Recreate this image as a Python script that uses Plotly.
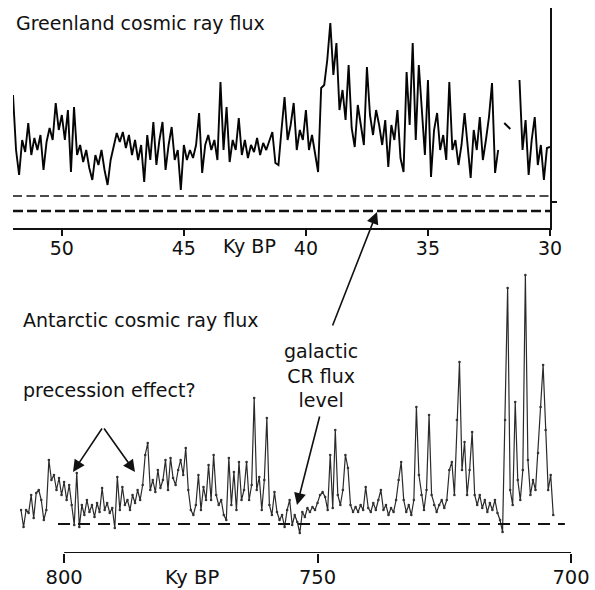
import plotly.graph_objects as go

# ---------------- data ----------------
# Greenland panel: age (ky BP) and cosmic ray flux (arbitrary units)
greenland_age = [
    52.0, 51.875, 51.75, 51.625, 51.5, 51.375, 51.25, 51.125,
    51.0, 50.875, 50.75, 50.625, 50.5, 50.375, 50.25, 50.125,
    50.0, 49.875, 49.75, 49.625, 49.5, 49.375, 49.25, 49.125,
    49.0, 48.875, 48.75, 48.625, 48.5, 48.375, 48.25, 48.125,
    48.0, 47.875, 47.75, 47.625, 47.5, 47.375, 47.25, 47.125,
    47.0, 46.875, 46.75, 46.625, 46.5, 46.375, 46.25, 46.125,
    46.0, 45.875, 45.75, 45.625, 45.5, 45.375, 45.25, 45.125,
    45.0, 44.875, 44.75, 44.625, 44.5, 44.375, 44.25, 44.125,
    44.0, 43.875, 43.75, 43.625, 43.5, 43.375, 43.25, 43.125,
    43.0, 42.875, 42.75, 42.625, 42.5, 42.375, 42.25, 42.125,
    42.0, 41.875, 41.75, 41.625, 41.5, 41.375, 41.25, 41.125,
    41.0, 40.875, 40.75, 40.625, 40.5, 40.375, 40.25, 40.125,
    40.0, 39.875, 39.75, 39.625, 39.5, 39.375, 39.25, 39.125,
    39.0, 38.875, 38.75, 38.625, 38.5, 38.375, 38.25, 38.125,
    38.0, 37.875, 37.75, 37.625, 37.5, 37.375, 37.25, 37.125,
    37.0, 36.875, 36.75, 36.625, 36.5, 36.375, 36.25, 36.125,
    36.0, 35.875, 35.75, 35.625, 35.5, 35.375, 35.25, 35.125,
    35.0, 34.875, 34.75, 34.625, 34.5, 34.375, 34.25, 34.125,
    34.0, 33.875, 33.75, 33.625, 33.5, 33.375, 33.25, 33.125,
    33.0, 32.875, 32.75, 32.625, 32.5, 32.375, 32.25, 32.125,
    32.0, 31.875, 31.75, 31.625, 31.5, 31.375, 31.25, 31.125,
    31.0, 30.875, 30.75, 30.625, 30.5, 30.375, 30.25, 30.125,
    30.0,
]
greenland_flux = [
    133, 78, 53, 88, 76, 105, 73, 90,
    78, 93, 58, 86, 100, 88, 125, 98,
    113, 88, 118, 56, 121, 73, 83, 66,
    78, 60, 48, 73, 63, 78, 58, 43,
    68, 83, 95, 86, 96, 80, 93, 73,
    88, 68, 83, 46, 93, 68, 106, 63,
    88, 106, 58, 83, 101, 68, 78, 38,
    83, 68, 78, 70, 83, 115, 55, 83,
    93, 78, 88, 68, 146, 78, 121, 66,
    88, 78, 110, 73, 88, 70, 83, 76,
    90, 73, 85, 78, 88, 96, 65, 63,
    98, 131, 88, 103, 125, 78, 98, 88,
    118, 78, 93, 73, 56, 140, 143, 168,
    205, 153, 185, 118, 138, 108, 163, 100,
    81, 123, 103, 83, 161, 113, 93, 118,
    103, 83, 108, 61, 103, 88, 118, 70,
    56, 156, 103, 185, 88, 163, 118, 73,
    148, 51, 98, 115, 78, 93, 68, 146,
    78, 88, 63, 83, 115, 78, 50, 98,
    78, 111, 68, 88, 111, 145, 55, 78,
    None, 105, 102, 99, None, None, 148, 78,
    108, 53, 88, 111, 63, 83, 48, 80,
    81,
]
greenland_levels = [32, 17]          # the two dashed reference levels
greenland_ticks = [50, 45, 40, 35, 30]

# Antarctic panel
antarctic_age = [
    808.5, 808.0, 807.5, 807.0, 806.5, 806.0, 805.5, 805.0, 804.5, 804.0,
    803.5, 803.0, 802.5, 802.0, 801.5, 801.0, 800.5, 800.0, 799.5, 799.0,
    798.5, 798.0, 797.5, 797.0, 796.5, 796.0, 795.5, 795.0, 794.5, 794.0,
    793.5, 793.0, 792.5, 792.0, 791.5, 791.0, 790.5, 790.0, 789.5, 789.0,
    788.5, 788.0, 787.5, 787.0, 786.5, 786.0, 785.5, 785.0, 784.5, 784.0,
    783.5, 783.0, 782.5, 782.0, 781.5, 781.0, 780.5, 780.0, 779.5, 779.0,
    778.5, 778.0, 777.5, 777.0, 776.5, 776.0, 775.5, 775.0, 774.5, 774.0,
    773.5, 773.0, 772.5, 772.0, 771.5, 771.0, 770.5, 770.0, 769.5, 769.0,
    768.5, 768.0, 767.5, 767.0, 766.5, 766.0, 765.5, 765.0, 764.5, 764.0,
    763.5, 763.0, 762.5, 762.0, 761.5, 761.0, 760.5, 760.0, 759.5, 759.0,
    758.5, 758.0, 757.5, 757.0, 756.5, 756.0, 755.5, 755.0, 754.5, 754.0,
    753.5, 753.0, 752.5, 752.0, 751.5, 751.0, 750.5, 750.0, 749.5, 749.0,
    748.5, 748.0, 747.5, 747.0, 746.5, 746.0, 745.5, 745.0, 744.5, 744.0,
    743.5, 743.0, 742.5, 742.0, 741.5, 741.0, 740.5, 740.0, 739.5, 739.0,
    738.5, 738.0, 737.5, 737.0, 736.5, 736.0, 735.5, 735.0, 734.5, 734.0,
    733.5, 733.0, 732.5, 732.0, 731.5, 731.0, 730.5, 730.0, 729.5, 729.0,
    728.5, 728.0, 727.5, 727.0, 726.5, 726.0, 725.5, 725.0, 724.5, 724.0,
    723.5, 723.0, 722.5, 722.0, 721.5, 721.0, 720.5, 720.0, 719.5, 719.0,
    718.5, 718.0, 717.5, 717.0, 716.5, 716.0, 715.5, 715.0, 714.5, 714.0,
    713.5, 713.0, 712.5, 712.0, 711.5, 711.0, 710.5, 710.0, 709.5, 709.0,
    708.5, 708.0, 707.5, 707.0, 706.5, 706.0, 705.5, 705.0, 704.5, 704.0,
    703.5,
]
antarctic_flux = [
    43, 26, 43, 40, 58, 35, 60, 63, 53, 33,
    43, 93, 73, 78, 63, 75, 58, 71, 53, 68,
    48, 28, 80, 26, 48, 38, 53, 41, 48, 36,
    50, 41, 65, 43, 50, 40, 45, 25, 76, 43,
    66, 48, 53, 43, 58, 50, 63, 53, 68, 98,
    110, 63, 73, 61, 83, 65, 73, 93, 63, 95,
    75, 68, 83, 93, 78, 105, 63, 43, 38, 48,
    78, 43, 66, 53, 88, 53, 98, 58, 48, 53,
    38, 33, 95, 48, 81, 43, 91, 53, 63, 91,
    53, 68, 155, 63, 76, 43, 73, 135, 48, 38,
    61, 41, 33, 38, 26, 43, 53, 28, 38, 31,
    20, 41, 36, 45, 41, 46, 43, 50, 58, 61,
    56, 43, 98, 45, 123, 58, 48, 63, 98, 85,
    48, 41, 46, 41, 48, 43, 66, 45, 41, 50,
    43, 53, 63, 43, 48, 38, 45, 41, 53, 73,
    91, 53, 41, 48, 38, 53, 146, 78, 58, 43,
    63, 138, 58, 48, 41, 48, 53, 45, 53, 83,
    91, 58, 133, 191, 83, 111, 58, 83, 121, 58,
    48, 58, 45, 53, 41, 50, 43, 53, 40, 33,
    21, 133, 265, 63, 48, 151, 73, 53, 83, 278,
    93, 58, 73, 63, 100, 146, 188, 123, 63, 78,
    38,
]
antarctic_level = 29                  # galactic CR flux level
antarctic_level_span = [801.2, 701.2]
antarctic_axis_span = [800, 700]
antarctic_ticks = [800, 750, 700]

# ---------------- figure ----------------
W, H = 595, 590
FONT = "DejaVu Sans"
INK = "#111111"


def fx(p):
    return p / W


def fy(p):
    return 1 - p / H


fig = go.Figure()

fig.add_trace(go.Scatter(
    x=greenland_age, y=greenland_flux, mode="lines",
    line=dict(color="#050505", width=1.9), connectgaps=False,
    xaxis="x", yaxis="y", hoverinfo="skip"))

fig.add_trace(go.Scatter(
    x=antarctic_age, y=antarctic_flux, mode="lines+markers",
    line=dict(color="#2a2a2a", width=1.2),
    marker=dict(color="#333333", size=2.6),
    xaxis="x2", yaxis="y2", hoverinfo="skip"))

shapes = []
# Greenland dashed levels
for lvl, wdt, dash in zip(greenland_levels, [1.5, 2.4], ["9px,4.5px", "10px,4px"]):
    shapes.append(dict(type="line", xref="x", yref="y",
                       x0=greenland_age[0], x1=greenland_age[-1], y0=lvl, y1=lvl,
                       line=dict(color=INK, width=wdt, dash=dash)))
# Antarctic dashed level
shapes.append(dict(type="line", xref="x2", yref="y2",
                   x0=antarctic_level_span[0], x1=antarctic_level_span[1],
                   y0=antarctic_level, y1=antarctic_level,
                   line=dict(color=INK, width=2.2, dash="12px,8px")))
# Antarctic axis line (800-700 only)
shapes.append(dict(type="line", xref="x2", yref="y2",
                   x0=antarctic_axis_span[0], x1=antarctic_axis_span[1], y0=0, y1=0,
                   line=dict(color=INK, width=2)))

annotations = []


def label(text, x, y, size=19, xanchor="left"):
    annotations.append(dict(text=text, x=fx(x), y=fy(y), xref="paper", yref="paper",
                            showarrow=False, xanchor=xanchor, yanchor="middle",
                            font=dict(family=FONT, size=size, color=INK)))


label("Greenland cosmic ray flux", 14, 23)
label("Antarctic cosmic ray flux", 21, 320)
label("precession effect?", 21, 390)
label("galactic<br>CR flux<br>level", 321, 375, xanchor="center")
label("Ky BP", 249, 246, xanchor="center")
label("Ky BP", 192, 577, size=19.5, xanchor="center")


def arrow(tip_x, tip_y, tail_x, tail_y):
    annotations.append(dict(text="", x=fx(tip_x), y=fy(tip_y), xref="paper", yref="paper",
                            ax=tail_x - tip_x, ay=tail_y - tip_y,
                            showarrow=True, arrowhead=2, arrowsize=1.5,
                            arrowwidth=1.6, arrowcolor=INK, standoff=0))


arrow(377, 212, 332, 327)
arrow(297, 505, 320, 415)
arrow(73, 472, 103, 427)
arrow(135, 472, 103, 427)

fig.update_layout(
    width=W, height=H, autosize=False, margin=dict(l=0, r=0, t=0, b=0, autoexpand=False),
    paper_bgcolor="white", plot_bgcolor="white", showlegend=False,
    shapes=shapes, annotations=annotations,
    xaxis=dict(domain=[fx(13), fx(550)], range=[52, 30], anchor="y", automargin=False,
               tickvals=greenland_ticks, ticktext=[str(t) for t in greenland_ticks],
               ticks="outside", ticklen=6, tickwidth=2, tickcolor=INK,
               ticklabelstandoff=-4,
               showline=True, linewidth=2, linecolor=INK,
               showgrid=False, zeroline=False,
               tickfont=dict(family=FONT, size=19, color=INK)),
    yaxis=dict(domain=[fy(228), fy(8)], range=[0, 220], anchor="x", side="right",
               automargin=False,
               showline=True, linewidth=1.5, linecolor=INK,
               ticks="outside", tickvals=[26], ticklen=5, tickwidth=1.5, tickcolor=INK,
               showticklabels=False, showgrid=False, zeroline=False),
    xaxis2=dict(domain=[fx(20), fx(572)], range=[808.7, 699.8], anchor="y2",
                automargin=False,
                tickvals=antarctic_ticks, ticktext=[str(t) for t in antarctic_ticks],
                ticks="outside", ticklen=9, tickwidth=2, tickcolor=INK,
                ticklabelstandoff=-2,
                showline=False, showgrid=False, zeroline=False,
                tickfont=dict(family=FONT, size=19.5, color=INK)),
    yaxis2=dict(domain=[fy(553), fy(265)], range=[0, 288], anchor="x2",
                automargin=False,
                visible=False, showgrid=False, zeroline=False),
)

fig.write_html(
    "out.html",
    config={"responsive": False, "displayModeBar": False, "staticPlot": True},
    post_script="document.body.style.margin='0';document.body.style.overflow='hidden';",
)
